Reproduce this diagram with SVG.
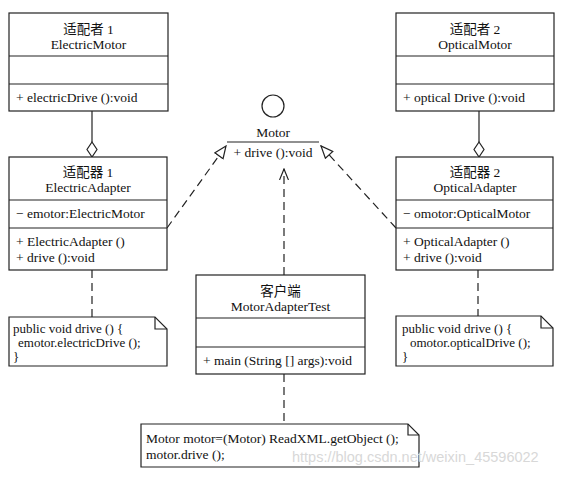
<svg xmlns="http://www.w3.org/2000/svg" width="572" height="477" viewBox="0 0 572 477">
<defs>
<style>
.box{fill:#fff;stroke:#222;stroke-width:1.2}
.ln{stroke:#222;stroke-width:1.2;fill:none}
.dash{stroke:#222;stroke-width:1.2;fill:none;stroke-dasharray:8,5}
text{font-family:"Liberation Serif","Noto Sans CJK SC",serif;font-size:13.5px;fill:#111}
.n{font-size:13px}
.c{text-anchor:middle}
.wm{font-family:"Liberation Sans",sans-serif;font-size:14.5px;fill:#d8d8d8}
</style>
<marker id="tri" viewBox="0 0 14 12" refX="13" refY="6" markerWidth="14" markerHeight="12" markerUnits="userSpaceOnUse" orient="auto">
<path d="M1,1 L13,6 L1,11 Z" fill="#fff" stroke="#222" stroke-width="1.2"/>
</marker>
<marker id="open" viewBox="0 0 12 10" refX="11" refY="5" markerWidth="12" markerHeight="10" markerUnits="userSpaceOnUse" orient="auto">
<path d="M0,0.5 L11,5 L0,9.5" fill="none" stroke="#222" stroke-width="1.2"/>
</marker>
</defs>
<rect width="572" height="477" fill="#fff"/>

<g id="connectors">
<line class="ln" x1="92" y1="111" x2="92" y2="142"/>
<path class="box" d="M92,142 L97,149.5 L92,157 L87,149.5 Z"/>
<line class="ln" x1="479" y1="111" x2="479" y2="142"/>
<path class="box" d="M479,142 L484,149.5 L479,157 L474,149.5 Z"/>
<line class="dash" x1="167" y1="228" x2="226" y2="146" marker-end="url(#tri)"/>
<line class="dash" x1="396" y1="228" x2="321" y2="146" marker-end="url(#tri)"/>
<line class="dash" x1="284" y1="275" x2="284" y2="169" marker-end="url(#open)"/>
<line class="dash" x1="92" y1="270" x2="92" y2="317"/>
<line class="dash" x1="478" y1="270" x2="478" y2="316"/>
<line class="dash" x1="284" y1="374" x2="284" y2="424"/>
</g>

<g id="electricMotor">
<rect class="box" x="9" y="13" width="159" height="98"/>
<line class="ln" x1="9" y1="56" x2="168" y2="56"/>
<line class="ln" x1="9" y1="84" x2="168" y2="84"/>
<text class="c" x="88.5" y="34">适配者 1</text>
<text class="c" x="88.5" y="49">ElectricMotor</text>
<text x="16" y="102">+ electricDrive ():void</text>
</g>

<g id="opticalMotor">
<rect class="box" x="396" y="13" width="158" height="98"/>
<line class="ln" x1="396" y1="56" x2="554" y2="56"/>
<line class="ln" x1="396" y1="84" x2="554" y2="84"/>
<text class="c" x="475" y="34">适配者 2</text>
<text class="c" x="475" y="49">OpticalMotor</text>
<text x="403" y="102">+ optical Drive ():void</text>
</g>

<g id="motor">
<circle cx="273" cy="106" r="11" fill="#fff" stroke="#222" stroke-width="1.2"/>
<text class="c" x="273" y="137">Motor</text>
<line class="ln" x1="227" y1="142" x2="319" y2="142"/>
<text class="c" x="273" y="157">+ drive ():void</text>
</g>

<g id="electricAdapter">
<rect class="box" x="9" y="157" width="158" height="113"/>
<line class="ln" x1="9" y1="200" x2="167" y2="200"/>
<line class="ln" x1="9" y1="228" x2="167" y2="228"/>
<text class="c" x="88" y="177">适配器 1</text>
<text class="c" x="88" y="192">ElectricAdapter</text>
<text x="16" y="218">− emotor:ElectricMotor</text>
<text x="16" y="246">+ ElectricAdapter ()</text>
<text x="16" y="262">+ drive ():void</text>
</g>

<g id="opticalAdapter">
<rect class="box" x="396" y="157" width="157" height="113"/>
<line class="ln" x1="396" y1="200" x2="553" y2="200"/>
<line class="ln" x1="396" y1="228" x2="553" y2="228"/>
<text class="c" x="475" y="177">适配器 2</text>
<text class="c" x="475" y="192">OpticalAdapter</text>
<text x="403" y="218">− omotor:OpticalMotor</text>
<text x="403" y="246">+ OpticalAdapter ()</text>
<text x="403" y="262">+ drive ():void</text>
</g>

<g id="client">
<rect class="box" x="196" y="275" width="169" height="99"/>
<line class="ln" x1="196" y1="318" x2="365" y2="318"/>
<line class="ln" x1="196" y1="347" x2="365" y2="347"/>
<text class="c" x="280.5" y="296">客户端</text>
<text class="c" x="280.5" y="311">MotorAdapterTest</text>
<text x="203" y="365">+ main (String [] args):void</text>
</g>

<g id="note1">
<path class="box" d="M9,317 L155,317 L167,329 L167,366 L9,366 Z"/>
<path class="ln" d="M155,317 L155,329 L167,329"/>
<text class="n" x="13" y="333">public void drive () {</text>
<text class="n" x="18" y="347">emotor.electricDrive ();</text>
<text class="n" x="13" y="361">}</text>
</g>

<g id="note2">
<path class="box" d="M396,316 L541,316 L553,328 L553,366 L396,366 Z"/>
<path class="ln" d="M541,316 L541,328 L553,328"/>
<text class="n" x="402" y="333">public void drive () {</text>
<text class="n" x="410" y="347">omotor.opticalDrive ();</text>
<text class="n" x="402" y="361">}</text>
</g>

<g id="note3">
<path class="box" d="M141,424 L408,424 L419,435 L419,467 L141,467 Z"/>
<path class="ln" d="M408,424 L408,435 L419,435"/>
<text x="146" y="443">Motor motor=(Motor) ReadXML.getObject ();</text>
<text x="146" y="459">motor.drive ();</text>
</g>

<text class="wm" x="292" y="462">https://blog.csdn.net/weixin_45596022</text>
</svg>
